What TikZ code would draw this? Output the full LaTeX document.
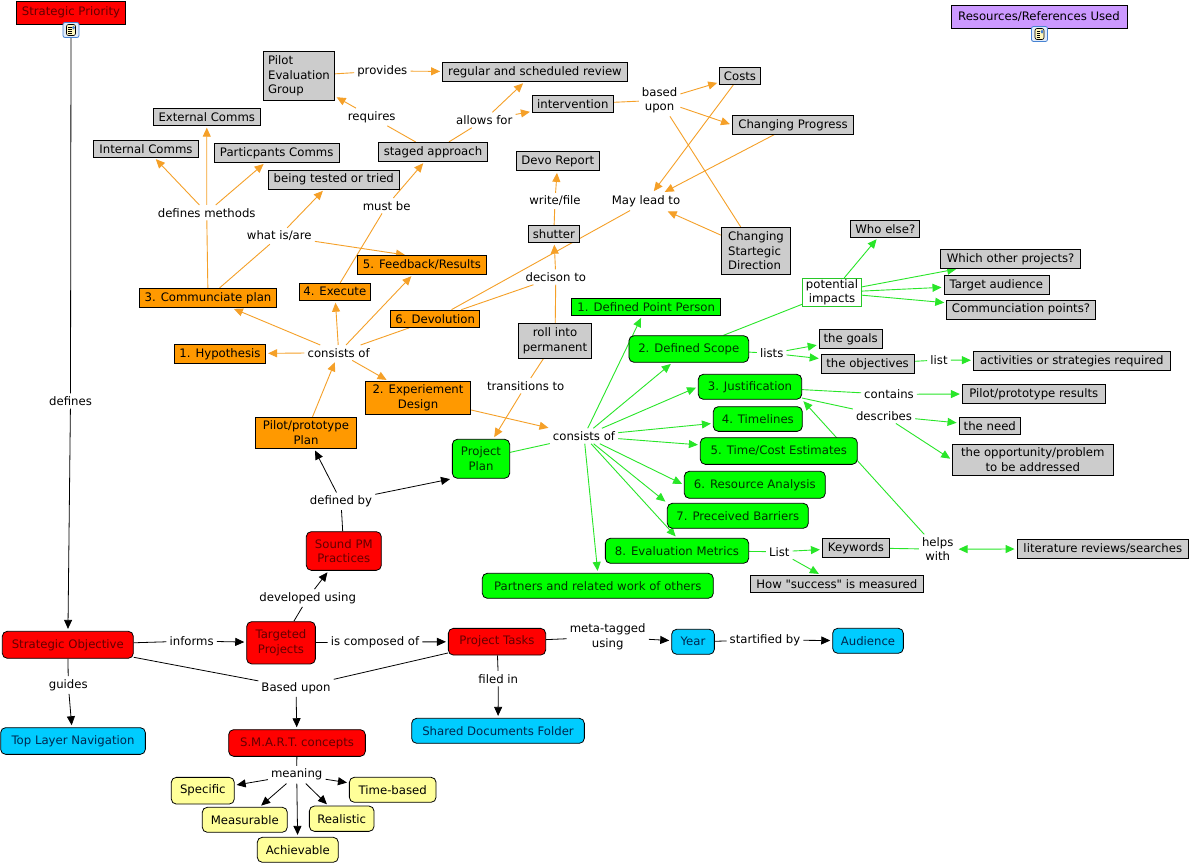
\documentclass[tikz,border=0pt]{standalone}
\usepackage{fontspec}
\setmainfont{DejaVu Sans}[Ligatures=TeXOff]
\usetikzlibrary{arrows.meta}
\pgfdeclarelayer{back}
\pgfdeclarelayer{bg}
\pgfsetlayers{back,bg,main}
\definecolor{grayF}{RGB}{204,204,204}
\definecolor{orF}{RGB}{255,153,0}
\definecolor{redF}{RGB}{255,0,0}
\definecolor{redT}{RGB}{100,0,0}
\definecolor{grnF}{RGB}{0,255,0}
\definecolor{grnT}{RGB}{0,50,0}
\definecolor{bluF}{RGB}{0,204,255}
\definecolor{bluT}{RGB}{0,40,80}
\definecolor{yelF}{RGB}{255,255,153}
\definecolor{purF}{RGB}{204,153,255}
\definecolor{orL}{RGB}{245,160,40}
\definecolor{grL}{RGB}{40,230,40}
\definecolor{grB}{RGB}{40,200,40}
\definecolor{icB}{RGB}{70,130,210}
\definecolor{icF}{RGB}{225,236,250}
\definecolor{icP}{RGB}{255,248,190}
\begin{document}
\begin{tikzpicture}[x=1pt,y=-1pt,
 every node/.style={font=\fontsize{11.7}{14.5}\selectfont},
 cb/.style={draw=black, line width=0.8pt, inner sep=1pt, align=center},
 gb/.style={cb, fill=grayF},
 ob/.style={cb, fill=orF},
 gn/.style={cb, fill=grnF, text=grnT, rounded corners=5pt},
 rb/.style={cb, fill=redF, text=redT, rounded corners=5pt},
 bb/.style={cb, fill=bluF, text=bluT, rounded corners=5pt},
 yb/.style={cb, fill=yelF, rounded corners=5pt},
 lbl/.style={inner sep=3pt, align=center},
 icon/.style={draw=icB, fill=icF, line width=0.8pt, rounded corners=2pt, minimum width=16pt, minimum height=15pt, inner sep=0pt,
   path picture={
     \fill[icP] ([shift={(-4.5pt,-5.5pt)}]path picture bounding box.center) rectangle ([shift={(4.5pt,5.5pt)}]path picture bounding box.center);
     \draw[black, line width=0.6pt] ([shift={(-4.5pt,-5.5pt)}]path picture bounding box.center) rectangle ([shift={(4.5pt,5.5pt)}]path picture bounding box.center);
     \foreach \k in {-3.5,-1.5,0.5,2.5} \draw[black, line width=0.5pt] ([shift={(-3pt,\k pt)}]path picture bounding box.center) -- ([shift={(0.5pt,\k pt)}]path picture bounding box.center);
     \fill[icB] ([shift={(1.2pt,0.5pt)}]path picture bounding box.center) rectangle ([shift={(3.8pt,4.2pt)}]path picture bounding box.center);
   }},
 ebk/.style={draw=black, line width=0.8pt},
 eor/.style={draw=orL, line width=0.9pt},
 egr/.style={draw=grL, line width=0.9pt},
 arr/.style={-{Triangle[length=9pt,width=8pt]}, shorten >=2pt},
 darr/.style={{Triangle[length=9pt,width=8pt]}-{Triangle[length=9pt,width=8pt]}, shorten >=2pt, shorten <=2pt}
]
\begin{pgfonlayer}{back}
\fill[white] (0,0) rectangle (1191,864);
\end{pgfonlayer}
\useasboundingbox (0,0) rectangle (1191,864);

% ---------- top boxes
\node[cb, fill=redF, text=redT, minimum width=109pt, minimum height=23pt] (SP) at (71,12.7) {Strategic Priority};
\node[icon] (ic1) at (71,30) {};
\node[cb, fill=purF, minimum width=176pt, minimum height=23pt] (RR) at (1039,17) {Resources/References Used};
\node[icon] (ic2) at (1039.5,34) {};

% ---------- gray concepts
\node[gb, minimum width=71pt, minimum height=49pt, align=left] (peg) at (299,76) {Pilot\\Evaluation\\Group};
\node[gb, minimum width=185pt, minimum height=19pt] (review) at (535,72) {regular and scheduled review};
\node[gb, minimum width=81pt, minimum height=17pt] (interv) at (572.8,104.2) {intervention};
\node[gb, minimum width=41pt, minimum height=17pt] (costs) at (740,76) {Costs};
\node[gb, minimum width=121.5pt, minimum height=19pt] (chprog) at (793,124.8) {Changing Progress};
\node[gb, minimum width=107pt, minimum height=17pt] (extc) at (206.8,116.8) {External Comms};
\node[gb, minimum width=105pt, minimum height=17pt] (intc) at (146,148.8) {Internal Comms};
\node[gb, minimum width=125pt, minimum height=19pt] (partc) at (276.7,152.8) {Particpants Comms};
\node[gb, minimum width=109pt, minimum height=19pt] (staged) at (433,151.8) {staged approach};
\node[gb, minimum width=131pt, minimum height=19pt] (tested) at (333.8,179.5) {being tested or tried};
\node[gb, minimum width=83pt, minimum height=19pt] (devo) at (557.8,161) {Devo Report};
\node[gb, minimum width=51pt, minimum height=17pt] (shutter) at (553.8,233.8) {shutter};
\node[gb, minimum width=69.5pt, minimum height=47pt, align=left] (csd) at (756,250.8) {Changing\\Startegic\\Direction};
\node[gb, minimum width=69pt, minimum height=17pt] (who) at (885.3,228.8) {Who else?};
\node[gb, minimum width=139.6pt, minimum height=19pt] (which) at (1010.6,258.8) {Which other projects?};
\node[gb, minimum width=105pt, minimum height=19pt] (target) at (996.4,284.8) {Target audience};
\node[gb, minimum width=148.7pt, minimum height=19pt] (commp) at (1021,309.5) {Communciation points?};
\node[cb, fill=white, draw=grB, inner sep=0pt, minimum width=59pt, minimum height=28.4pt] (potimp) at (832,292.5) {potential\\impacts};
\node[gb, minimum width=73pt, minimum height=35pt] (roll) at (555,341) {roll into\\permanent};
\node[gb, minimum width=63pt, minimum height=19pt] (goals) at (850.6,339) {the goals};
\node[gb, minimum width=93pt, minimum height=19pt] (objs) at (867.6,363.8) {the objectives};
\node[gb, minimum width=197pt, minimum height=19pt] (activ) at (1071.8,361) {activities or strategies required};
\node[gb, minimum width=143pt, minimum height=19pt] (ppres) at (1033.8,393.8) {Pilot/prototype results};
\node[gb, minimum width=61.7pt, minimum height=17.4pt] (need) at (989.8,426) {the need};
\node[gb, minimum width=161pt, minimum height=31pt] (opp) at (1032.8,459.8) {the opportunity/problem\\to be addressed};
\node[gb, minimum width=67.4pt, minimum height=19pt] (keyw) at (856,547.8) {Keywords};
\node[gb, minimum width=173pt, minimum height=17.4pt] (howsucc) at (836.8,584) {How "success" is measured};
\node[gb, minimum width=171.7pt, minimum height=19pt] (litrev) at (1102.8,548.8) {literature reviews/searches};

% ---------- orange concepts
\node[ob, minimum width=137.3pt, minimum height=19.3pt] (comm) at (208,298) {3. Communciate plan};
\node[ob, minimum width=71pt, minimum height=17pt] (exec) at (334.8,291.8) {4. Execute};
\node[ob, minimum width=129.3pt, minimum height=18.7pt] (feed) at (422,265) {5. Feedback/Results};
\node[ob, minimum width=89pt, minimum height=17.3pt] (devol) at (435.2,318.7) {6. Devolution};
\node[ob, minimum width=91.3pt, minimum height=19pt] (hyp) at (220,353.8) {1. Hypothesis};
\node[ob, minimum width=105.3pt, minimum height=33pt] (expd) at (418,397.8) {2. Experiement\\Design};
\node[ob, minimum width=101.3pt, minimum height=31pt] (ppp) at (306,432.8) {Pilot/prototype\\Plan};

% ---------- green concepts
\node[cb, fill=grnF, text=grnT, minimum width=149pt, minimum height=17pt] (dpp) at (646.2,307.2) {1. Defined Point Person};
\node[gn, minimum width=119.7pt, minimum height=26.6pt] (ds) at (688.8,349) {2. Defined Scope};
\node[gn, minimum width=103.4pt, minimum height=25pt] (just) at (750,386.8) {3. Justification};
\node[gn, minimum width=89pt, minimum height=24.7pt] (time) at (757.8,419) {4. Timelines};
\node[gn, minimum width=157pt, minimum height=26.7pt] (tce) at (778.8,451) {5. Time/Cost Estimates};
\node[gn, minimum width=141pt, minimum height=27pt] (ra) at (754.8,484.8) {6. Resource Analysis};
\node[gn, minimum width=141pt, minimum height=25pt] (pb) at (737.8,515.8) {7. Preceived Barriers};
\node[gn, minimum width=143.3pt, minimum height=25pt] (em) at (677,550.8) {8. Evaluation Metrics};
\node[gn, minimum width=231pt, minimum height=25pt] (partners) at (597.8,585.8) {Partners and related work of others};
\node[gn, minimum width=57.3pt, minimum height=39pt] (pplan) at (481,458.8) {Project\\Plan};

% ---------- red concepts
\node[rb, minimum width=75pt, minimum height=38.7pt] (spm) at (343.8,551) {Sound PM\\Practices};
\node[rb, minimum width=131pt, minimum height=27pt] (so) at (67.8,644.8) {Strategic Objective};
\node[rb, minimum width=68.7pt, minimum height=42.3pt] (tp) at (281,642.8) {Targeted\\Projects};
\node[rb, minimum width=97.3pt, minimum height=26.7pt] (pt) at (497,641.7) {Project Tasks};
\node[rb, minimum width=136.7pt, minimum height=26.7pt] (smart) at (297,743) {S.M.A.R.T. concepts};

% ---------- blue concepts
\node[bb, minimum width=144.7pt, minimum height=26.7pt] (tln) at (73,741) {Top Layer Navigation};
\node[bb, minimum width=172.7pt, minimum height=25pt] (sdf) at (498,730.8) {Shared Documents Folder};
\node[bb, minimum width=42.7pt, minimum height=25pt] (year) at (693,641.8) {Year};
\node[bb, minimum width=70.7pt, minimum height=25pt] (aud) at (868,640.8) {Audience};

% ---------- yellow concepts
\node[yb, minimum width=63pt, minimum height=26.7pt] (spec) at (202.8,790.7) {Specific};
\node[yb, minimum width=85pt, minimum height=25pt] (meas) at (244.8,819.8) {Measurable};
\node[yb, minimum width=81pt, minimum height=25pt] (ach) at (297.8,849.8) {Achievable};
\node[yb, minimum width=64.7pt, minimum height=25.3pt] (real) at (341.7,818.7) {Realistic};
\node[yb, minimum width=86.7pt, minimum height=25pt] (tb) at (392.7,789.8) {Time-based};

% ---------- linking phrases
\node[lbl] (defines) at (70.5,401) {defines};
\node[lbl] (provides) at (382.3,71) {provides};
\node[lbl] (requires) at (371.7,117) {requires};
\node[lbl] (allows) at (484.3,120) {allows for};
\node[lbl] (basedup2) at (659.6,100.2) {based\\upon};
\node[lbl] (maylead) at (646,201.7) {May lead to};
\node[lbl] (defmeth) at (206.7,212.7) {defines methods};
\node[lbl] (whatis) at (279.3,236) {what is/are};
\node[lbl] (mustbe) at (386.7,205.7) {must be};
\node[lbl] (writefile) at (555,201) {write/file};
\node[lbl] (decison) at (555.8,277) {decison to};
\node[lbl] (consor) at (338.7,352.7) {consists of};
\node[lbl] (transto) at (525.7,385.7) {transitions to};
\node[lbl] (consgr) at (584,436) {consists of};
\node[lbl] (lstA) at (771.7,353.3) {lists};
\node[lbl] (lstB) at (939,360) {list};
\node[lbl] (contains) at (889,394.3) {contains};
\node[lbl] (describes) at (884,415.7) {describes};
\node[lbl] (helps) at (937.7,549.2) {helps\\with};
\node[lbl] (lstC) at (779.3,551.7) {List};
\node[lbl] (defby) at (341,501.3) {defined by};
\node[lbl] (devusing) at (307.7,598) {developed using};
\node[lbl] (informs) at (191.7,641) {informs};
\node[lbl] (iscomp) at (375,642) {is composed of};
\node[lbl] (basedup) at (296,688) {Based upon};
\node[lbl] (guides) at (68.3,685) {guides};
\node[lbl] (metatag) at (607.7,637) {meta-tagged\\using};
\node[lbl] (startby) at (765,640) {startified by};
\node[lbl] (filedin) at (498.3,678.7) {filed in};
\node[lbl] (meaning) at (296.7,774.7) {meaning};

% ---------- connectors
\begin{pgfonlayer}{bg}
% black
\draw[ebk] (ic1) -- (defines);
\draw[ebk, arr] (defines) -- (so);
\draw[ebk] (so) -- (informs);
\draw[ebk, arr] (informs) -- (tp);
\draw[ebk] (so) -- (guides);
\draw[ebk, arr] (guides) -- (tln);
\draw[ebk] (so) -- (basedup);
\draw[ebk] (pt) -- (basedup);
\draw[ebk, arr] (basedup) -- (smart);
\draw[ebk] (tp) -- (devusing);
\draw[ebk, arr] (devusing) -- (spm);
\draw[ebk] (tp) -- (iscomp);
\draw[ebk, arr] (iscomp) -- (pt);
\draw[ebk] (spm) -- (defby);
\draw[ebk, arr] (defby) -- (ppp);
\draw[ebk, arr] (defby) -- (pplan.south west);
\draw[ebk] (pt) -- (metatag);
\draw[ebk, arr] (metatag) -- (year);
\draw[ebk] (year) -- (startby);
\draw[ebk, arr] (startby) -- (aud);
\draw[ebk] (pt) -- (filedin);
\draw[ebk, arr] (filedin) -- (sdf);
\draw[ebk] (smart) -- (meaning);
\draw[ebk, arr] (meaning) -- (spec);
\draw[ebk, arr] (meaning) -- (meas);
\draw[ebk, arr] (meaning) -- (ach);
\draw[ebk, arr] (meaning) -- (real);
\draw[ebk, arr] (meaning) -- (tb);
% orange
\draw[eor, arr] (ppp) -- (consor);
\draw[eor, arr] (consor) -- (hyp);
\draw[eor, arr] (consor) -- (comm);
\draw[eor, arr] (consor) -- (exec);
\draw[eor, arr] (consor) -- (feed);
\draw[eor] (consor) -- (devol);
\draw[eor, arr] (consor) -- (expd);
\draw[eor] (comm) -- (defmeth);
\draw[eor, arr] (defmeth) -- (intc);
\draw[eor, arr] (defmeth) -- (extc);
\draw[eor, arr] (defmeth) -- (partc);
\draw[eor] (comm) -- (whatis);
\draw[eor, arr] (whatis) -- (tested);
\draw[eor, arr] (whatis) -- ([xshift=-15pt]feed.north);
\draw[eor] (exec) -- (mustbe);
\draw[eor, arr] (mustbe) -- (staged);
\draw[eor] (staged) -- (requires);
\draw[eor, arr] (requires) -- (peg);
\draw[eor] (staged) -- (allows);
\draw[eor, arr] (allows) -- (review);
\draw[eor, arr] (allows) -- (interv);
\draw[eor] (peg) -- (provides);
\draw[eor, arr] (provides) -- (review);
\draw[eor] (interv) -- (basedup2);
\draw[eor, arr] (basedup2) -- (costs);
\draw[eor, arr] (basedup2) -- (chprog.west);
\draw[eor] (basedup2) -- (csd);
\draw[eor, arr] (costs) -- (maylead);
\draw[eor, arr] (chprog) -- (maylead);
\draw[eor, arr] (csd) -- (maylead);
\draw[eor] (maylead) -- (devol);
\draw[eor] (devol) -- (decison);
\draw[eor, arr] (decison) -- (shutter);
\draw[eor] (decison) -- (roll);
\draw[eor] (shutter) -- (writefile);
\draw[eor, arr] (writefile) -- (devo);
\draw[eor] (roll) -- (transto);
\draw[eor, arr] (transto) -- (pplan);
\draw[eor, arr] (expd) -- (consgr);
% green
\draw[egr] (pplan) -- (consgr);
\draw[egr, arr] (consgr) -- (dpp);
\draw[egr, arr] (consgr) -- (ds);
\draw[egr, arr] (consgr) -- (just.west);
\draw[egr, arr] (consgr) -- (time);
\draw[egr, arr] (consgr) -- (tce);
\draw[egr, arr] (consgr) -- (ra.west);
\draw[egr, arr] (consgr) -- (pb.north west);
\draw[egr, arr] (consgr) -- (em.north);
\draw[egr, arr] (consgr) -- (partners.north);
\draw[egr] (ds) -- (potimp);
\draw[egr, arr] (potimp) -- (who);
\draw[egr, arr] (potimp) -- (which);
\draw[egr, arr] (potimp) -- (target);
\draw[egr, arr] (potimp) -- (commp);
\draw[egr] (ds) -- (lstA);
\draw[egr, arr] (lstA) -- (goals);
\draw[egr, arr] (lstA) -- (objs);
\draw[egr] (objs) -- (lstB);
\draw[egr, arr] (lstB) -- (activ);
\draw[egr] (just) -- (contains);
\draw[egr, arr] (contains) -- (ppres);
\draw[egr] (just) -- (describes);
\draw[egr, arr] (describes) -- (need);
\draw[egr, arr] (describes) -- (opp.west);
\draw[egr] (em) -- (lstC);
\draw[egr, arr] (lstC) -- (keyw);
\draw[egr, arr] (lstC) -- (howsucc);
\draw[egr] (keyw) -- (helps);
\draw[egr, darr] (helps) -- (litrev);
\draw[egr, arr] (helps) -- (just.south east);
\end{pgfonlayer}
\end{tikzpicture}
\end{document}
